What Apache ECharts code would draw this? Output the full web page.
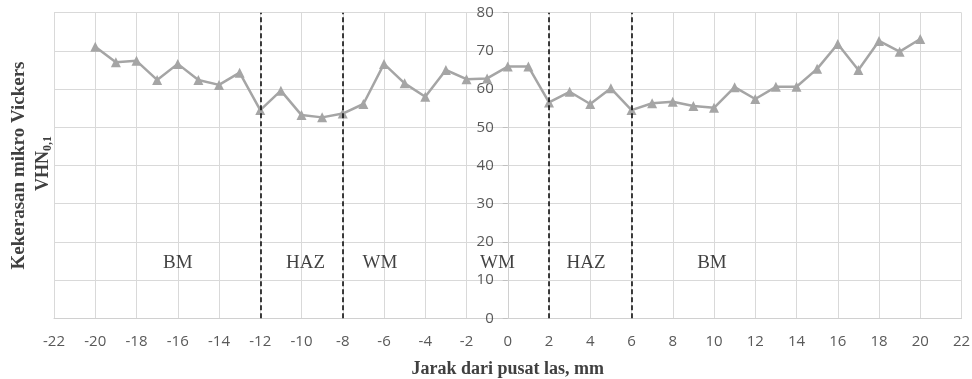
<!DOCTYPE html>
<html>
<head>
<meta charset="utf-8">
<script src="https://cdn.jsdelivr.net/npm/echarts@6/dist/echarts.min.js"></script>
<style>
html,body{margin:0;padding:0;background:#fff;}
#chart{width:972px;height:379px;}
</style>
</head>
<body>
<div id="chart"></div>
<script>
// jarak dari pusat las (mm) dan kekerasan VHN
var jarak = [-20,-19,-18,-17,-16,-15,-14,-13,-12,-11,-10,-9,-8,-7,-6,-5,-4,-3,-2,-1,0,1,2,3,4,5,6,7,8,9,10,11,12,13,14,15,16,17,18,19,20];
var vhn = [71.1,67.0,67.4,62.4,66.6,62.4,61.1,64.3,54.5,59.6,53.2,52.6,53.6,56.1,66.6,61.5,58.0,65.0,62.6,62.8,65.9,65.9,56.5,59.3,56.1,60.2,54.5,56.3,56.7,55.6,55.1,60.5,57.4,60.6,60.6,65.3,71.8,65.0,72.6,69.8,73.1];

// batas daerah (garis putus-putus)
var batas = [-12,-8,2,6];

// label daerah
var daerah = ['BM','HAZ','WM','WM','HAZ','BM'];
var daerahX = [-16,-9.8,-6.2,-0.5,3.8,9.9];
var daerahY = 14.5;

var myChart = echarts.init(document.getElementById('chart'));

var W = 972, H = 379;
var gLeft = 54, gRight = 10.5, gTop = 12.7, gBottom = 60.7;
var gridW = W - gLeft - gRight;
var tengahY = gTop + (H - gTop - gBottom)/2;

var labelData = [];
for (var i = 0; i < daerah.length; i++) {
	labelData.push({value:[daerahX[i], daerahY], name:daerah[i]});
}

var lineData = [];
for (var j = 0; j < jarak.length; j++) {
	lineData.push([jarak[j], vhn[j]]);
}

var option = {
	animation:false,
	grid:{left:gLeft, right:gRight, top:gTop, bottom:gBottom, containLabel:false, outerBoundsMode:'none'},
	xAxis:{
		type:'value',
		min:-22, max:22, interval:2,
		axisLine:{show:true, onZero:false, lineStyle:{color:'#d0d0d0'}},
		axisTick:{show:false},
		axisLabel:{color:'#595959', fontFamily:'Open Sans', fontSize:15, margin:16},
		splitLine:{show:true, lineStyle:{color:'#d9d9d9', width:1}},
		name:'Jarak dari pusat las, mm',
		nameLocation:'middle',
		nameGap:42,
		nameTextStyle:{color:'#404040', fontFamily:'Liberation Serif', fontWeight:'bold', fontSize:18}
	},
	yAxis:{
		type:'value',
		min:0, max:80, interval:10,
		// sumbu Y di tengah (x = 0)
		offset:-gridW/2,
		axisLine:{show:true, onZero:false, lineStyle:{color:'#d0d0d0'}},
		axisTick:{show:true, length:5, lineStyle:{color:'#c0c0c0'}},
		axisLabel:{color:'#595959', fontFamily:'Open Sans', fontSize:15, margin:14},
		splitLine:{show:true, lineStyle:{color:'#d9d9d9', width:1}}
	},
	graphic:[{
		type:'text',
		x:19, y:tengahY,
		rotation:Math.PI/2,
		style:{text:'Kekerasan mikro Vickers', align:'center', verticalAlign:'middle',
			font:'bold 19px "Liberation Serif"', fill:'#404040'}
	},{
		type:'text',
		x:43, y:tengahY - 2,
		rotation:Math.PI/2,
		style:{
			text:'{a|VHN}{s|0,1}',
			align:'center', verticalAlign:'middle',
			rich:{
				a:{fontFamily:'Liberation Serif', fontWeight:'bold', fontSize:18, fill:'#404040'},
				s:{fontFamily:'Liberation Serif', fontWeight:'bold', fontSize:12, fill:'#404040', padding:[9,0,0,0]}
			}
		}
	}],
	series:[{
		type:'line',
		data:lineData,
		symbol:'triangle',
		symbolSize:10,
		lineStyle:{color:'#a5a5a5', width:2.5},
		itemStyle:{color:'#a5a5a5'},
		z:3,
		markLine:{
			silent:true,
			symbol:['none','none'],
			label:{show:false},
			lineStyle:{color:'#000', type:[5,3], width:1.5},
			data:batas.map(function(v){ return {xAxis:v}; })
		}
	},{
		type:'scatter',
		data:labelData,
		symbolSize:0,
		silent:true,
		label:{
			show:true,
			position:'inside',
			formatter:function(p){ return p.name; },
			fontFamily:'Liberation Serif',
			fontSize:19,
			color:'#111'
		}
	}]
};
myChart.setOption(option);
</script>
</body>
</html>
